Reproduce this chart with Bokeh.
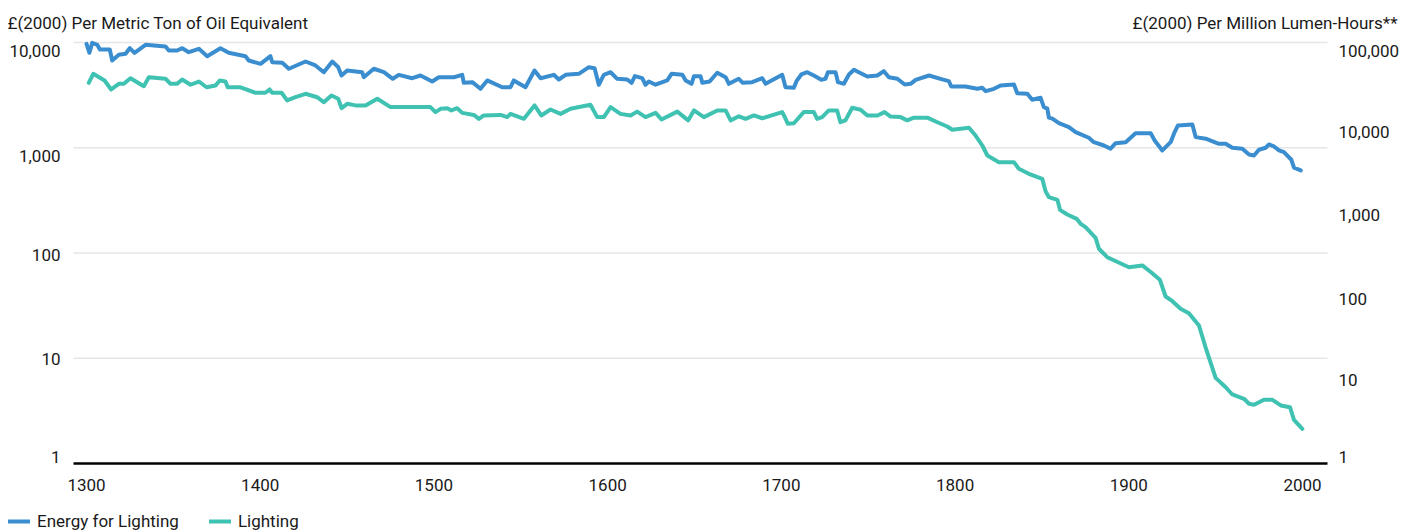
from bokeh.plotting import figure
from bokeh.models import (Range1d, LogScale, Label, Legend, LegendItem, ColumnDataSource)
from bokeh.core.properties import value
from bokeh.embed import file_html
from bokeh.resources import INLINE

# ---- data ----
energy_years = [1300, 1301.7, 1303.3, 1306.2, 1307.7, 1313.4, 1314.8, 1318.6, 1322.5, 1324.9,
                1327.6, 1334, 1345.5, 1347.4, 1352.2, 1355.1, 1358.9, 1364.7, 1369.5, 1377.1,
                1381.9, 1391.5, 1393.4, 1400.2, 1405.9, 1406.9, 1412.7, 1416.5, 1426.1, 1431.8,
                1436.6, 1441.5, 1444.9, 1446.8, 1450.1, 1458.7, 1459.6, 1465.4, 1471.2, 1476.3,
                1479.8, 1487.5, 1492.3, 1499, 1502.8, 1511.5, 1516.3, 1517.2, 1522.1, 1526.8,
                1530.7, 1539.3, 1544.1, 1546, 1552.7, 1557.9, 1561.4, 1569, 1571.9, 1575.8,
                1583.4, 1589.2, 1592.5, 1594.9, 1597.8, 1601.7, 1605.5, 1611.3, 1613.8, 1615.7,
                1619.9, 1621.8, 1623.7, 1627.6, 1634.3, 1636.8, 1643, 1644.9, 1648.3, 1649.7,
                1653.5, 1654.5, 1658.7, 1663.1, 1667.9, 1669.8, 1675.5, 1677.8, 1683.2, 1689,
                1690.9, 1700.5, 1702.4, 1707.2, 1708.7, 1711.5, 1714.9, 1718.7, 1723, 1725.4,
                1726.8, 1731.2, 1732.6, 1736, 1738.9, 1741.8, 1745.7, 1749.5, 1755.3, 1759,
                1761.9, 1766.8, 1771, 1774.4, 1777.3, 1785, 1791.6, 1796.4, 1797.8, 1806,
                1812.8, 1815.7, 1817.6, 1822.4, 1826.2, 1833.9, 1835.8, 1841.6, 1844.4, 1849.2,
                1851.1, 1853.1, 1854, 1856, 1859.8, 1865.5, 1869.4, 1877, 1879.9, 1885.7,
                1889.5, 1892.4, 1898.2, 1903.9, 1912.6, 1914.9, 1919.3, 1924.1, 1926.4, 1928.3,
                1936.6, 1938.5, 1944.3, 1951.9, 1955.8, 1959.6, 1965.4, 1969.2, 1972.1, 1974.9,
                1978.8, 1980.7, 1983.6, 1986.5, 1989.3, 1993.6, 1995.1, 1999]
energy_values = [9720, 7980, 9930, 9510, 8580, 8580, 6740, 7640, 7810, 8830,
                 7980, 9510, 9160, 8390, 8390, 8830, 8090, 8710, 7410, 8830,
                 7980, 7410, 6740, 6270, 7410, 6500, 6410, 5630, 6600, 6050,
                 5220, 6600, 5830, 4860, 5420, 5220, 4680, 5630, 5220, 4520,
                 4930, 4580, 4860, 4260, 4680, 4680, 4930, 4140, 4200, 3630,
                 4360, 3760, 3760, 4360, 3760, 5420, 4580, 4930, 4450, 4930,
                 5040, 5830, 5700, 3970, 4930, 5220, 4520, 4450, 4140, 4790,
                 4580, 3970, 4260, 3970, 4360, 5040, 4930, 4360, 4050, 4790,
                 4790, 4140, 4260, 5160, 4680, 4050, 4520, 4140, 4200, 4580,
                 4050, 4930, 3760, 3710, 4290, 4970, 5220, 4860, 4420, 4520,
                 5220, 5220, 4200, 4050, 4970, 5500, 5110, 4760, 4860, 5340,
                 4680, 4520, 3990, 4050, 4420, 4860, 4520, 4290, 3820, 3820,
                 3630, 3710, 3450, 3630, 3910, 3990, 3300, 3260, 2860, 2990,
                 2430, 2350, 1930, 1890, 1710, 1570, 1410, 1245, 1130, 1050,
                 978, 1106, 1130, 1376, 1376, 1173, 943, 1130, 1410, 1630,
                 1665, 1262, 1218, 1091, 1091, 1000, 978, 864, 845, 957,
                 1000, 1075, 1029, 943, 908, 769, 646, 609]

lighting_years = [1301.3, 1303.9, 1310.4, 1314.2, 1318.6, 1321.5, 1325.3, 1333, 1335.9, 1345.5,
                  1348.4, 1352.2, 1355.1, 1359.9, 1364.7, 1369.1, 1374.3, 1376.7, 1380, 1381.3,
                  1388.7, 1397.3, 1400.2, 1403, 1405.4, 1406.9, 1412.3, 1415.5, 1420.3, 1426.1,
                  1432.8, 1436.6, 1441, 1444.9, 1446.8, 1450.1, 1454.9, 1460.6, 1467.4, 1475,
                  1498, 1500.9, 1503.8, 1507.7, 1510, 1513.4, 1516.3, 1523, 1525.9, 1528.7,
                  1538.3, 1542.2, 1544.1, 1551.8, 1557.9, 1561.8, 1567.1, 1572.9, 1578.6, 1590.1,
                  1594, 1597.8, 1601.7, 1607.4, 1613.2, 1617, 1621.8, 1627.6, 1631, 1640.1,
                  1646.4, 1649.7, 1655.4, 1663.1, 1667.9, 1670.8, 1675.5, 1679.4, 1684.2, 1689,
                  1700.5, 1702, 1703.7, 1707.2, 1712.9, 1718.7, 1720.6, 1723.5, 1727.3, 1732.1,
                  1734, 1736.9, 1740.8, 1745.6, 1749.5, 1755.3, 1759.4, 1762.9, 1768.6, 1772.5,
                  1776.3, 1784, 1789.8, 1795.5, 1798.4, 1808, 1811.8, 1815.7, 1818.6, 1825.2,
                  1833.9, 1836.7, 1842.5, 1850.2, 1852.1, 1854, 1858.9, 1860.4, 1864.6, 1870,
                  1872.3, 1875.1, 1880.9, 1882.8, 1887.6, 1900.1, 1907.8, 1913.5, 1917.9, 1921.2,
                  1925.1, 1929.8, 1934.6, 1940.4, 1944.2, 1950, 1955.8, 1959.6, 1966.3, 1969.2,
                  1972.1, 1977.8, 1982.7, 1987.5, 1992.8, 1995.1, 1999.9]
lighting_values = [33200, 42500, 35400, 27700, 32300, 32300, 37700, 30300, 38700, 37100,
                   32300, 32300, 36400, 31500, 34400, 29400, 30900, 35400, 34400, 29400,
                   29400, 25300, 25300, 25300, 27700, 25300, 25300, 20500, 22400, 24600,
                   22400, 19500, 23500, 21500, 16600, 18700, 17900, 17900, 21500, 17100,
                   17100, 14900, 16300, 16600, 15600, 16600, 14600, 13800, 12400, 13600,
                   13800, 13000, 14200, 12400, 17900, 13600, 16000, 14200, 16300, 18200,
                   13000, 13000, 17100, 14200, 13600, 15100, 13000, 14600, 12200, 15100,
                   11900, 15600, 13000, 15600, 15600, 11900, 13300, 12400, 13600, 12600,
                   14900, 13000, 10830, 11000, 14900, 14900, 12400, 13000, 15600, 15600,
                   11300, 11900, 16800, 15900, 13600, 13600, 14900, 13200, 13000, 11900,
                   12800, 12800, 11300, 10060, 9190, 9700, 7860, 5980, 4550, 3790,
                   3790, 3160, 2760, 2400, 1710, 1455, 1355, 1030, 906, 805,
                   703, 640, 479, 355, 282, 214, 225, 182, 152, 96.2,
                   84.7, 68.8, 61, 43.6, 24, 10.4, 8.05, 6.6, 5.87, 5.12,
                   4.98, 5.71, 5.71, 4.89, 4.66, 3.30, 2.58]

x_ticks = [1300, 1400, 1500, 1600, 1700, 1800, 1900, 2000]
left_ticks = [1, 10, 100, 1000, 10000]
right_ticks = [1, 10, 100, 1000, 10000, 100000]
left_title = "£(2000) Per Metric Ton of Oil Equivalent"
right_title = "£(2000) Per Million Lumen-Hours**"
series_names = ["Energy for Lighting", "Lighting"]

# ---- styling / layout ----
BLUE = "#3A8ED0"
TEAL = "#40C2B2"
TXT = "#1a1a1a"
GRID = "#e6e6e6"
FONT = "Roboto"
W, H = 1414, 532

# plot-area geometry in canvas pixels (the frame covers the whole canvas)
PX0, PX1 = 73, 1327          # plot area left / right
PY_TOP, PY_BOT = 42, 463     # plot area top / bottom
X_MIN, X_MAX = 1292.52, 2014.39   # data values at plot-area left / right
L_MIN, L_MAX = 1.0, 10000.0       # left axis range
R_MIN, R_MAX = 1.0, 100000.0      # right axis range

import math
xs = (X_MAX - X_MIN) / (PX1 - PX0)
x_range = Range1d(X_MIN - PX0 * xs, X_MAX + (W - PX1) * xs)

def log_range(lo, hi):
    dec = (PY_BOT - PY_TOP) / (math.log10(hi) - math.log10(lo))
    return Range1d(10 ** (math.log10(lo) - (H - PY_BOT) / dec),
                   10 ** (math.log10(hi) + PY_TOP / dec))

p = figure(width=W, height=H, x_range=x_range, y_range=log_range(L_MIN, L_MAX),
           y_axis_type="log", x_axis_location=None, y_axis_location=None,
           output_backend="svg", toolbar_location=None,
           min_border=0, min_border_left=0, min_border_right=0,
           min_border_top=0, min_border_bottom=0)
p.extra_y_ranges = {"right": log_range(R_MIN, R_MAX)}
p.extra_y_scales = {"right": LogScale()}
p.outline_line_color = None
p.background_fill_color = "white"
p.border_fill_color = "white"
p.grid.visible = False

# horizontal grid lines (left-axis decades)
grid_vals = [t for t in left_ticks if t > L_MIN]
p.segment(x0=[X_MIN] * len(grid_vals), x1=[X_MAX] * len(grid_vals),
          y0=grid_vals, y1=grid_vals, line_color=GRID, line_width=1.5)

# data lines
src_e = ColumnDataSource(dict(x=energy_years, y=energy_values))
src_l = ColumnDataSource(dict(x=lighting_years, y=lighting_values))
r1 = p.line("x", "y", source=src_e, line_color=BLUE, line_width=4,
            line_join="round", line_cap="round")
r2 = p.line("x", "y", source=src_l, line_color=TEAL, line_width=4,
            line_join="round", line_cap="round", y_range_name="right")

# x axis baseline
p.segment(x0=[X_MIN], x1=[X_MAX], y0=[L_MIN], y1=[L_MIN], line_color="black", line_width=2.5)

def fmt(v):
    return f"{int(v):,}"

# left tick labels
left_dy = [-7, 1, 2, 8, 8]
p.text(x=[X_MIN] * len(left_ticks), y=left_ticks, text=[fmt(v) for v in left_ticks],
       x_offset=-13, y_offset=left_dy, text_align="right", text_baseline="middle",
       text_font=value(FONT), text_font_size="17px", text_color=TXT)

# right tick labels
right_dy = [-7, 1, 3.5, 4.5, 5, 8]
p.text(x=[X_MAX] * len(right_ticks), y=right_ticks, text=[fmt(v) for v in right_ticks],
       x_offset=11, y_offset=right_dy, text_align="left", text_baseline="middle",
       text_font=value(FONT), text_font_size="17px", text_color=TXT, y_range_name="right")

# x tick labels
p.text(x=x_ticks, y=[L_MIN] * len(x_ticks), text=[str(v) for v in x_ticks],
       y_offset=21, text_align="center", text_baseline="middle",
       text_font=value(FONT), text_font_size="17px", text_color=TXT)

# axis titles
p.add_layout(Label(x=7, y=H - 22, x_units="screen", y_units="screen", text=left_title,
                   text_font=FONT, text_font_size="17px", text_color=TXT,
                   text_baseline="middle", text_align="left"))
p.add_layout(Label(x=1397, y=H - 22, x_units="screen", y_units="screen", text=right_title,
                   text_font=FONT, text_font_size="17px", text_color=TXT,
                   text_baseline="middle", text_align="right"))

legend = Legend(items=[LegendItem(label=series_names[0], renderers=[r1]),
                       LegendItem(label=series_names[1], renderers=[r2])],
                location=(8, 1), orientation="horizontal",
                glyph_width=22, glyph_height=20, label_standoff=7, spacing=30,
                padding=0, margin=0, border_line_color=None, background_fill_alpha=0,
                label_text_font=FONT, label_text_font_size="17px", label_text_color=TXT)
p.add_layout(legend)

open("out.html", "w").write(file_html(p, INLINE))
